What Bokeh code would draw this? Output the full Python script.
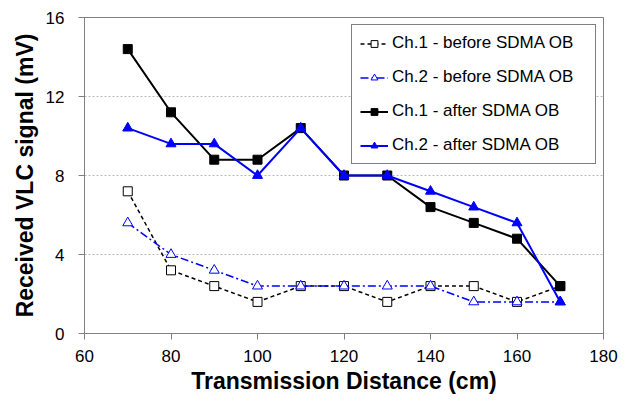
from bokeh.plotting import figure
from bokeh.models import Range1d, SingleIntervalTicker, Legend
from bokeh.embed import file_html
from bokeh.resources import INLINE

distance = [70, 80, 90, 100, 110, 120, 130, 140, 150, 160, 170]
ch1_before = [7.2, 3.2, 2.4, 1.6, 2.4, 2.4, 1.6, 2.4, 2.4, 1.6, 2.4]
ch2_before = [5.6, 4.0, 3.2, 2.4, 2.4, 2.4, 2.4, 2.4, 1.6, 1.6, 1.6]
ch1_after = [14.4, 11.2, 8.8, 8.8, 10.4, 8.0, 8.0, 6.4, 5.6, 4.8, 2.4]
ch2_after = [10.4, 9.6, 9.6, 8.0, 10.4, 8.0, 8.0, 7.2, 6.4, 5.6, 1.6]
labels = ["Ch.1 - before SDMA OB", "Ch.2 - before SDMA OB",
          "Ch.1 - after SDMA OB", "Ch.2 - after SDMA OB"]

FONT = "Liberation Sans"
BLUE = "#0000FF"

p = figure(width=622, height=402, output_backend="svg", toolbar_location=None,
           x_range=Range1d(60, 180), y_range=Range1d(0, 16),
           min_border_left=84, min_border_top=17, min_border_right=19, min_border_bottom=69)
p.background_fill_color = "white"
p.border_fill_color = "white"
p.outline_line_color = "#808080"
p.outline_line_width = 1

# series
r1 = p.line(distance, ch1_before, color="black", line_width=1.5, line_dash="4 3")
m1 = p.scatter(distance, ch1_before, marker="square", size=9, line_color="black",
               fill_color="white", line_width=1)
r2 = p.line(distance, ch2_before, color=BLUE, line_width=1.5, line_dash="8 3 2 3")
m2 = p.scatter(distance, ch2_before, marker="triangle", size=10, line_color=BLUE,
               fill_color="white", line_width=1)
r3 = p.line(distance, ch1_after, color="black", line_width=2)
m3 = p.scatter(distance, ch1_after, marker="square", size=9, line_color="black",
               fill_color="black")
r4 = p.line(distance, ch2_after, color=BLUE, line_width=2)
m4 = p.scatter(distance, ch2_after, marker="triangle", size=10, line_color=BLUE,
               fill_color=BLUE)

legend = Legend(items=[(labels[0], [r1, m1]), (labels[1], [r2, m2]),
                       (labels[2], [r3, m3]), (labels[3], [r4, m4])],
                location="top_right")
legend.margin = 7
legend.padding = 8
legend.spacing = 14
legend.label_height = 17
legend.glyph_height = 17
legend.glyph_width = 28
legend.label_standoff = 4
legend.label_width = 195
legend.label_text_font = FONT
legend.label_text_font_size = "17px"
legend.label_text_color = "black"
legend.border_line_color = "black"
legend.border_line_width = 1
legend.background_fill_color = "white"
legend.background_fill_alpha = 1
p.add_layout(legend)

# axes
p.xaxis.ticker = SingleIntervalTicker(interval=20)
p.yaxis.ticker = SingleIntervalTicker(interval=4)
for ax in (p.xaxis[0], p.yaxis[0]):
    ax.axis_line_color = "#808080"
    ax.major_tick_line_color = "#808080"
    ax.major_tick_out = 6
    ax.major_tick_in = 0
    ax.minor_tick_line_color = None
    ax.major_label_text_font = FONT
    ax.major_label_text_font_size = "17px"
    ax.major_label_text_color = "black"
    ax.axis_label_text_font = FONT
    ax.axis_label_text_font_size = "23px"
    ax.axis_label_text_font_style = "bold"
    ax.axis_label_text_color = "black"
p.xaxis.axis_label = "Transmission Distance (cm)"
p.yaxis.axis_label = "Received VLC signal (mV)"
p.xaxis.major_label_standoff = 10
p.yaxis.major_label_standoff = 14
p.xaxis.axis_label_standoff = 3
p.yaxis.axis_label_standoff = 5

p.xgrid.grid_line_color = None
p.ygrid.grid_line_color = "#b8b8b8"
p.ygrid.grid_line_dash = "2 2"
p.ygrid.grid_line_width = 1

open("out.html", "w").write(file_html(p, INLINE))
